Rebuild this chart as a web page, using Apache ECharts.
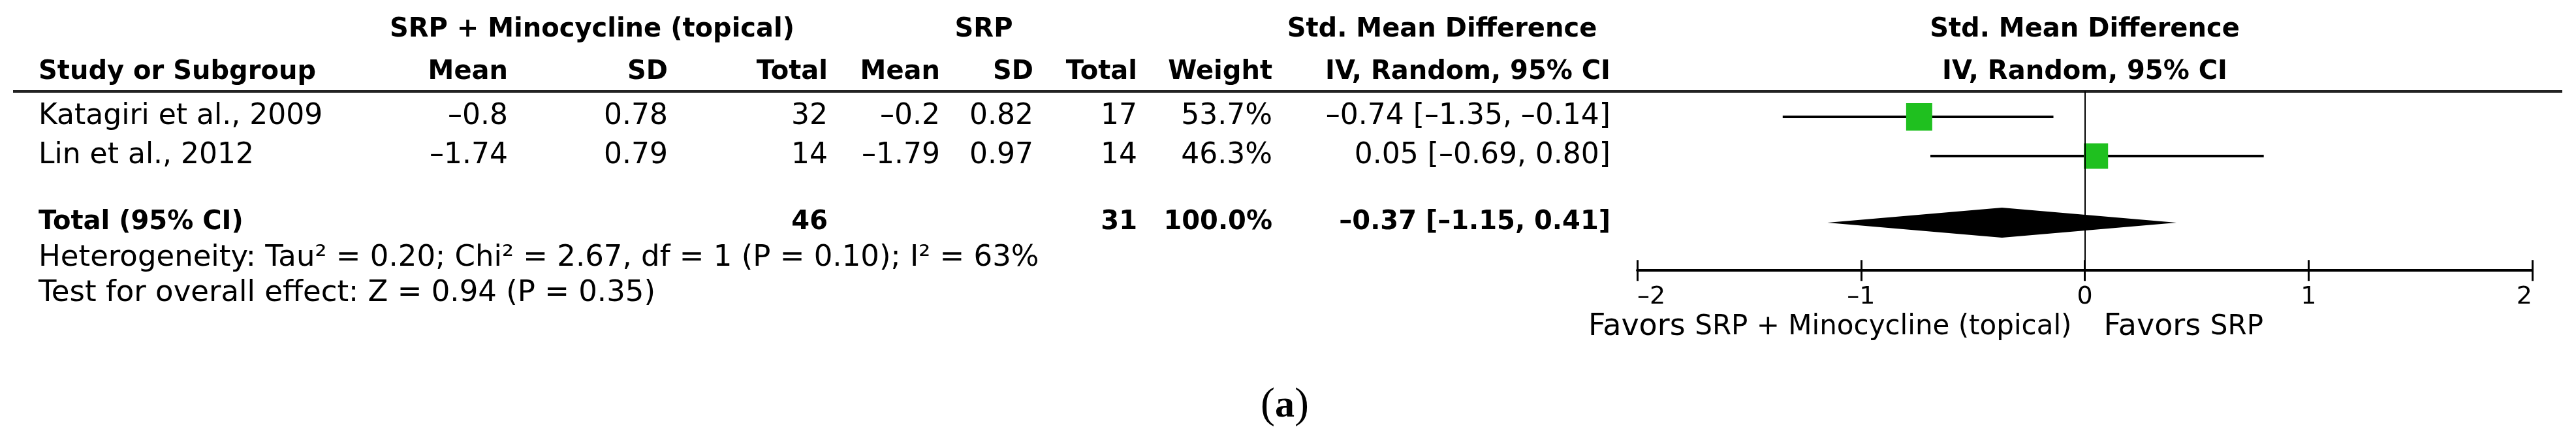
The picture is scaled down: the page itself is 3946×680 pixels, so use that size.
<!DOCTYPE html>
<html><head><meta charset="utf-8">
<script src="https://cdn.jsdelivr.net/npm/echarts@6/dist/echarts.min.js"></script>
<style>html,body{margin:0;padding:0;background:#fff}#c{width:3946px;height:680px}</style>
</head><body><div id="c"></div>
<script>
// ---------------- data ----------------
const studies   = ['Katagiri et al., 2009', 'Lin et al., 2012'];
const expMean   = [-0.8, -1.74];
const expSD     = [0.78, 0.79];
const expTotal  = [32, 14];
const ctlMean   = [-0.2, -1.79];
const ctlSD     = [0.82, 0.97];
const ctlTotal  = [17, 14];
const weights   = [53.7, 46.3];
const smd       = [-0.74, 0.05];
const ciLow     = [-1.35, -0.69];
const ciHigh    = [-0.14, 0.80];
const rowPos    = [0, 1];
const totalLabel  = 'Total (95% CI)';
const totalExp    = 46;
const totalCtl    = 31;
const totalWeight = 100.0;
const pooled      = [-0.37, -1.15, 0.41];  // estimate, low, high
const totalPos    = 2.7;
const xTicks      = [-2, -1, 0, 1, 2];
const groupHeaders = ['SRP + Minocycline (topical)', 'SRP', 'Std. Mean Difference', 'Std. Mean Difference'];
const colHeaders   = ['Study or Subgroup', 'Mean', 'SD', 'Total', 'Mean', 'SD', 'Total', 'Weight', 'IV, Random, 95% CI', 'IV, Random, 95% CI'];
const heterogeneity = 'Heterogeneity: Tau\u00B2 = 0.20; Chi\u00B2 = 2.67, df = 1 (P = 0.10); I\u00B2 = 63%';
const overallEffect = 'Test for overall effect: Z = 0.94 (P = 0.35)';
const favorsLeft  = ['Favors', 'SRP + Minocycline (topical)'];
const favorsRight = ['Favors', 'SRP'];
const panelLabel  = 'a';

// ---------------- helpers / layout ----------------
const DASH = '\u2013';
const num = v => (v < 0 ? DASH : '') + String(Math.abs(v));
const fx = (v, d) => (v < 0 ? DASH : '') + Math.abs(v).toFixed(d);
const ci = (e, l, h) => fx(e, 2) + ' [' + fx(l, 2) + ', ' + fx(h, 2) + ']';

const FONT = 'DejaVu Sans';
const colRight = [778, 1023, 1268, 1440, 1583, 1742, 1949, 2467];
const leftX = 59;

const chart = echarts.init(document.getElementById('c'), null, {renderer: 'canvas'});

const forestData = studies.map((s, i) => [smd[i], ciLow[i], ciHigh[i], rowPos[i], weights[i]]);
const maxW = Math.max.apply(null, weights);

chart.setOption({
  backgroundColor: '#fff',
  animation: false,
  grid: [{left: 2508, right: 67, top: 140, height: 274.2}],
  xAxis: [
    {
      type: 'value', gridIndex: 0, min: xTicks[0], max: xTicks[xTicks.length - 1], interval: 1, position: 'bottom',
      axisLine: {show: true, onZero: false, lineStyle: {color: '#000', width: 4}},
      axisTick: {show: true, length: 16, lineStyle: {color: '#000', width: 3}},
      splitLine: {show: false},
      axisLabel: {
        show: true, margin: 22, color: '#000', fontFamily: FONT, fontSize: 38,
        alignMinLabel: 'left', alignMaxLabel: 'right',
        formatter: v => (v < 0 ? DASH + (-v) : String(v))
      }
    },
    {
      type: 'value', gridIndex: 0, min: xTicks[0], max: xTicks[xTicks.length - 1], interval: 1, position: 'bottom',
      axisLine: {show: false, onZero: false},
      axisTick: {show: true, inside: true, length: 16, lineStyle: {color: '#000', width: 3}},
      splitLine: {show: false}, axisLabel: {show: false}
    }
  ],
  yAxis: [{type: 'value', gridIndex: 0, min: -0.65, max: 3.92, inverse: true, show: false}],
  series: [
    {
      type: 'custom', xAxisIndex: 0, yAxisIndex: 0,
      data: forestData,
      encode: {x: [0, 1, 2], y: 3},
      renderItem: (params, api) => {
        const y = api.value(3);
        const p0 = api.coord([api.value(1), y]);
        const p1 = api.coord([api.value(2), y]);
        const c = api.coord([api.value(0), y]);
        const sz = 40 * Math.sqrt(api.value(4) / maxW);
        return {
          type: 'group',
          children: [
            {type: 'line', shape: {x1: p0[0], y1: p0[1], x2: p1[0], y2: p1[1]},
             style: {stroke: '#000', lineWidth: 4}},
            {type: 'rect', shape: {x: c[0] - sz / 2, y: c[1] - sz / 2 - 1, width: sz, height: sz + 2},
             style: {fill: '#1FC01F'}}
          ]
        };
      },
      markLine: {
        silent: true, symbol: 'none', animation: false,
        label: {show: false},
        lineStyle: {color: '#000', width: 2, type: 'solid'},
        data: [{xAxis: 0}]
      },
      z: 3
    },
    {
      type: 'custom', xAxisIndex: 0, yAxisIndex: 0,
      data: [[pooled[0], pooled[1], pooled[2], totalPos]],
      encode: {x: [0, 1, 2], y: 3},
      renderItem: (params, api) => {
        const y = api.value(3);
        const l = api.coord([api.value(1), y]);
        const h = api.coord([api.value(2), y]);
        const c = api.coord([api.value(0), y]);
        const hh = 23;
        return {
          type: 'polygon',
          shape: {points: [[l[0], l[1]], [c[0], c[1] - hh], [h[0], h[1]], [c[0], c[1] + hh]]},
          style: {fill: '#000'}
        };
      },
      z: 4
    }
  ]
});

// ---------------- table text (graphic) ----------------
const yOf = p => chart.convertToPixel({yAxisIndex: 0}, p);
const x0 = chart.convertToPixel({xAxisIndex: 0}, 0);
const g = [];
function txt(text, x, y, align, opts) {
  g.push({
    type: 'text', x: x, y: y, silent: true,
    style: Object.assign({
      text: text, align: align, verticalAlign: 'middle',
      fontFamily: FONT, fontSize: 44, fill: '#000'
    }, opts || {})
  });
}
const B = {fontWeight: 'bold', fontSize: 40};

// group headers
txt(groupHeaders[0], 907, 46, 'center', B);
txt(groupHeaders[1], 1507, 46, 'center', B);
txt(groupHeaders[2], 2209, 46, 'center', B);
txt(groupHeaders[3], x0, 46, 'center', B);
// column headers
txt(colHeaders[0], leftX, 111, 'left', B);
for (let k = 1; k <= 8; k++) txt(colHeaders[k], colRight[k - 1], 111, 'right', B);
txt(colHeaders[9], x0, 111, 'center', B);

// header rule
g.push({type: 'line', silent: true, shape: {x1: 20, y1: 140, x2: 3925, y2: 140},
        style: {stroke: '#222', lineWidth: 4}});

// study rows
studies.forEach((s, i) => {
  const y = yOf(rowPos[i]);
  const cells = [num(expMean[i]), num(expSD[i]), String(expTotal[i]), num(ctlMean[i]), num(ctlSD[i]),
                 String(ctlTotal[i]), weights[i].toFixed(1) + '%', ci(smd[i], ciLow[i], ciHigh[i])];
  txt(s, leftX, y, 'left');
  cells.forEach((c, k) => txt(c, colRight[k], y, 'right'));
});

// total row
const ty = yOf(totalPos);
txt(totalLabel, leftX, ty, 'left', B);
txt(String(totalExp), colRight[2], ty, 'right', B);
txt(String(totalCtl), colRight[5], ty, 'right', B);
txt(totalWeight.toFixed(1) + '%', colRight[6], ty, 'right', B);
txt(ci(pooled[0], pooled[1], pooled[2]), colRight[7], ty, 'right', B);

// footnotes
txt(heterogeneity, leftX, 395, 'left', {fontSize: 45});
txt(overallEffect, leftX, 449, 'left', {fontSize: 45});

// favours labels
const rich = {a: {fontFamily: FONT, fontSize: 46, fill: '#000'}, b: {fontFamily: FONT, fontSize: 42, fill: '#000'}};
g.push({type: 'text', x: x0 - 20, y: 501, silent: true,
  style: {text: '{a|' + favorsLeft[0] + ' }{b|' + favorsLeft[1] + '}', align: 'right', verticalAlign: 'middle', rich: rich}});
g.push({type: 'text', x: x0 + 29, y: 501, silent: true,
  style: {text: '{a|' + favorsRight[0] + ' }{b|' + favorsRight[1] + '}', align: 'left', verticalAlign: 'middle', rich: rich}});

// panel label
g.push({type: 'text', x: 1968, y: 622, silent: true,
  style: {text: '{p|(}{a|' + panelLabel + '}{p|)}', align: 'center', verticalAlign: 'middle',
    rich: {p: {fontFamily: 'Liberation Serif', fontSize: 66, fill: '#000'},
           a: {fontFamily: 'Liberation Serif', fontSize: 60, fontWeight: 'bold', fill: '#000'}}}});

chart.setOption({graphic: g});
</script>
</body></html>
